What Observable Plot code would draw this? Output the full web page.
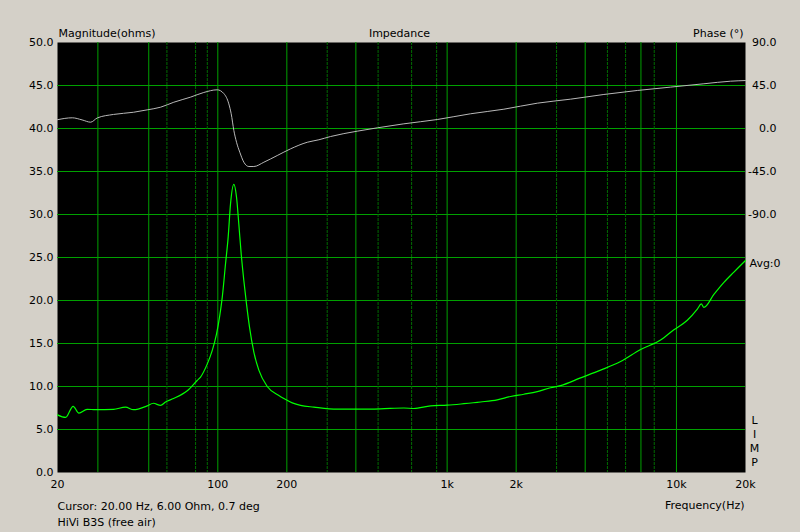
<!DOCTYPE html>
<html>
<head>
<meta charset="utf-8">
<script src="https://cdn.jsdelivr.net/npm/d3@7"></script>
<script src="https://cdn.jsdelivr.net/npm/@observablehq/plot@0.6"></script>
<style>
  html, body { margin: 0; padding: 0; background: #d4d0c8; }
  #chart svg { display: block; }
</style>
</head>
<body>
<div id="chart"></div>
<script>
// ---- data ----
const magFreq = [20,21.7,23.4,24.8,26.9,29.3,35.1,39.6,42.9,49.2,52.4,56.3,59.2,64.1,73.6,81.3,84.1,89.9,94.6,98.7,101.8,104.6,108.1,111,113.6,117.5,120.7,123.5,126.5,129.9,133.4,137.5,143.6,151,164.3,184.6,194.1,211.2,229.5,262.3,331.8,419.2,512.6,647.5,716,846.8,1001,1183,1399,1654,1891,2161,2473,2825,3124,3819,4668,5706,6975,8526,9745,11150,12330,12830,13170,14560,16100,17800,20000];
const magOhm  = [6.7,6.4,7.7,6.9,7.35,7.3,7.35,7.6,7.3,7.75,8.05,7.8,8.2,8.6,9.5,10.7,11.1,12.6,14.2,16.1,18.1,20.4,24.3,27.4,31.2,33.5,32.0,28.9,25.4,22.3,19.6,16.9,14.0,11.9,10.0,8.95,8.6,8.1,7.8,7.6,7.36,7.36,7.4,7.5,7.44,7.75,7.83,8.0,8.2,8.45,8.84,9.1,9.4,9.85,10.1,11.0,11.9,12.9,14.3,15.4,16.6,17.7,19.0,19.6,19.2,20.7,22.1,23.3,24.65];

const phaseFreq = [20,23.2,25.6,27.9,29.8,35.1,42.9,49.2,56.3,64.3,76.0,86.9,99.4,106.3,111.7,114.4,117.5,120.7,124.7,129.9,136.6,143.6,158.8,181.6,207.6,245.5,275.9,310.2,405.5,496,647.5,905.6,1265,1768,2473,3454,4825,6747,9429,13170,17220,20000];
const phaseDeg  = [9.2,11.2,9,6.6,11,14.7,17,19.5,22.3,27.5,32.8,37.7,40.5,36.5,25.8,15.4,-2.1,-14.4,-24.8,-35.3,-39.8,-39.8,-35.3,-28.3,-21.3,-14.4,-11.8,-8.4,-2.8,0.7,4.9,9.4,15.4,20.2,26.5,30.7,35.6,39.8,43.3,46.8,49.5,50.2];

const freqTicks  = [20,50,100,200,500,1000,2000,5000,10000,20000];
const freqLabels = ["20","50","100","200","500","1k","2k","5k","10k","20k"];
const magTicks   = [0,5,10,15,20,25,30,35,40,45,50];
const phaseTicks = [90,45,0,-45,-90];
const gridBright = [30,50,100,200,400,1000,2000,4000,7000,10000];
const gridDim    = [60,80,90,300,500,700,900,3000,5000,6000,8000];

// ---- build tables ----
const magData = magFreq.map((f, i) => ({f, v: magOhm[i]}));
// phase drawn on the magnitude scale: 0° ↔ 40 Ω, 45° per 5 Ω
const phaseToY = p => 40 + p / 9;
const phaseData = phaseFreq.map((f, i) => ({f, v: phaseToY(phaseDeg[i])}));

const chart = Plot.plot({
  width: 800,
  height: 532,
  marginLeft: 57,
  marginRight: 55,
  marginTop: 42,
  marginBottom: 60,
  style: {background: "#d4d0c8", fontFamily: "DejaVu Sans", fontSize: "11px", color: "black"},
  x: {type: "log", domain: [20, 20000]},
  y: {domain: [0, 50]},
  marks: [
    Plot.frame({fill: "black", stroke: "none"}),
    Plot.ruleY(magTicks.filter(d => d > 0 && d < 50), {stroke: "#00a000", strokeWidth: 1}),
    Plot.ruleX(gridDim, {stroke: "#006a00", strokeWidth: 1, strokeDasharray: "3,1"}),
    Plot.ruleX(gridBright, {stroke: "#00a000", strokeWidth: 1}),
    Plot.line(phaseData, {x: "f", y: "v", stroke: "#b8b8b8", strokeWidth: 1, curve: "monotone-x"}),
    Plot.line(magData, {x: "f", y: "v", stroke: "#00ff00", strokeWidth: 1.2, curve: "monotone-x"}),
    Plot.axisY({ticks: magTicks, tickFormat: d => d.toFixed(1), tickSize: 0, tickPadding: 4, label: null}),
    Plot.axisX({ticks: freqTicks, tickFormat: d => freqLabels[freqTicks.indexOf(d)], tickSize: 0, tickPadding: 8, label: null}),
    Plot.text(phaseTicks, {y: d => phaseToY(d), text: d => d.toFixed(1), frameAnchor: "right", textAnchor: "end", dx: 31}),
    Plot.text(["Magnitude(ohms)"], {frameAnchor: "top-left", textAnchor: "start", lineAnchor: "bottom", dx: 1, dy: -6}),
    Plot.text(["Impedance"], {frameAnchor: "top", textAnchor: "middle", lineAnchor: "bottom", dx: -2, dy: -6}),
    Plot.text(["Phase (°)"], {frameAnchor: "top-right", textAnchor: "end", lineAnchor: "bottom", dx: -2, dy: -6}),
    Plot.text(["Cursor: 20.00 Hz, 6.00 Ohm, 0.7 deg"], {frameAnchor: "bottom-left", textAnchor: "start", lineAnchor: "bottom", dx: 0, dy: 37}),
    Plot.text(["HiVi B3S (free air)"], {frameAnchor: "bottom-left", textAnchor: "start", lineAnchor: "bottom", dx: 0, dy: 53}),
    Plot.text(["Frequency(Hz)"], {frameAnchor: "bottom-right", textAnchor: "end", lineAnchor: "bottom", dx: -1, dy: 36}),
    Plot.text(["Avg:0"], {frameAnchor: "top-right", textAnchor: "start", lineAnchor: "middle", dx: 4, dy: 221}),
    Plot.text(["L\nI\nM\nP"], {frameAnchor: "bottom-right", textAnchor: "middle", lineAnchor: "bottom", lineHeight: 1.27, dx: 9, dy: -7})
  ]
});
document.getElementById("chart").appendChild(chart);
</script>
</body>
</html>
